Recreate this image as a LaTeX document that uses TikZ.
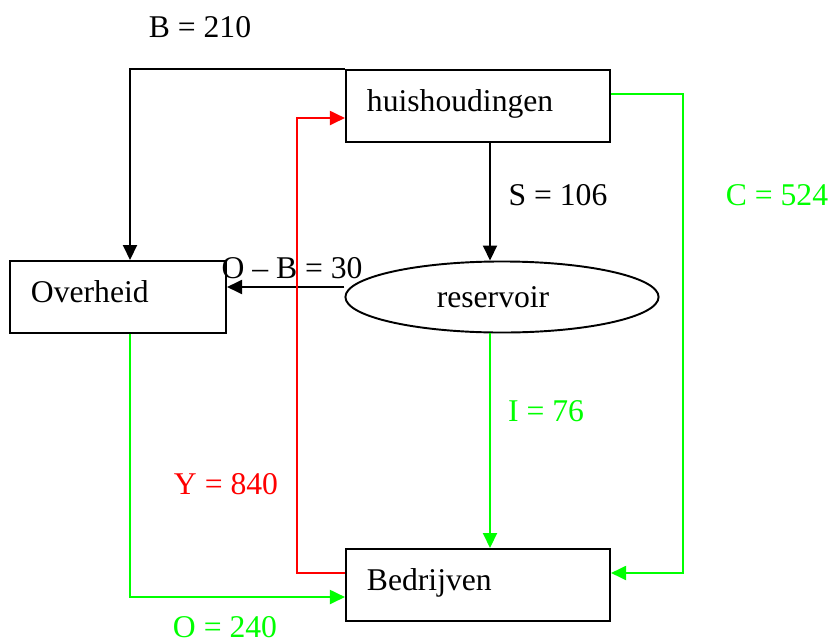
\documentclass[tikz,border=0pt]{standalone}
\usepackage{fontspec}
\setmainfont{Liberation Serif}
\usetikzlibrary{arrows.meta,positioning,shapes.geometric,calc}
\definecolor{cFlow}{HTML}{00FF00}
\definecolor{cInc}{HTML}{FF0000}
\tikzset{
  sector/.style={rectangle, draw=black, line width=0.55pt, inner ysep=0pt, text height=0.41cm, text depth=0.31cm, inner xsep=0.21cm, align=left},
  pool/.style={ellipse, draw=black, line width=0.55pt, minimum width=3.13cm, minimum height=0.71cm, inner sep=0pt},
  flow/.style={-{Triangle[length=0.15cm, width=0.14cm]}, line width=0.55pt},
  lbl/.style={inner sep=0pt},
}
\begin{document}
\begin{tikzpicture}[font=\fontsize{9pt}{11pt}\selectfont, x=0.01cm, y=-0.01cm]
  \useasboundingbox (0,0) rectangle (830,639);
  % sectors
  \node[sector, text width=2.22cm] (hh) at (478,106) {huishoudingen};
  \node[sector, text width=1.74cm] (ov) at (118,297) {Overheid};
  \node[sector, text width=2.22cm] (bed) at (478,585) {Bedrijven};
  \node[pool] (res) at (502,297) {reservoir\hspace*{0.18cm}};
  % turning points
  \coordinate (cR) at (683,94);
  \coordinate (yL) at (297,573);
  % black flows
  \draw[flow] (hh.north west) -| ([xshift=0.12cm]ov.north);
  \draw[flow] ([xshift=0.12cm]hh.south) -- ([xshift=0.12cm]hh.south |- res.north);
  \draw[flow] ([yshift=0.10cm]res.west) -- ([yshift=0.10cm]ov.east |- res.west);
  % green flows
  \draw[flow, cFlow] ([xshift=0.12cm]hh.south |- res.south) -- ([xshift=0.12cm]bed.north);
  \draw[flow, cFlow] ([yshift=0.12cm]hh.east) -- (cR) |- ([yshift=0.12cm]bed.east);
  \draw[flow, cFlow] ([xshift=0.12cm]ov.south) |- ([yshift=-0.12cm]bed.west);
  % red flow
  \draw[flow, cInc] ([yshift=0.12cm]bed.west) -- (yL) |- ([yshift=-0.12cm]hh.west);
  % labels
  \node[lbl] (lB) at (200,27) {B = 210};
  \node[lbl] (lS) at (558,195) {S = 106};
  \node[lbl] (lOB) at (292,268) {O -- B = 30};
  \node[lbl, cFlow] (lC) at (777,195) {C = 524};
  \node[lbl, cFlow] (lI) at (546,411) {I = 76};
  \node[lbl, cInc] (lY) at (226,484) {Y = 840};
  \node[lbl, cFlow] (lO) at (225,627) {O = 240};
\end{tikzpicture}
\end{document}
